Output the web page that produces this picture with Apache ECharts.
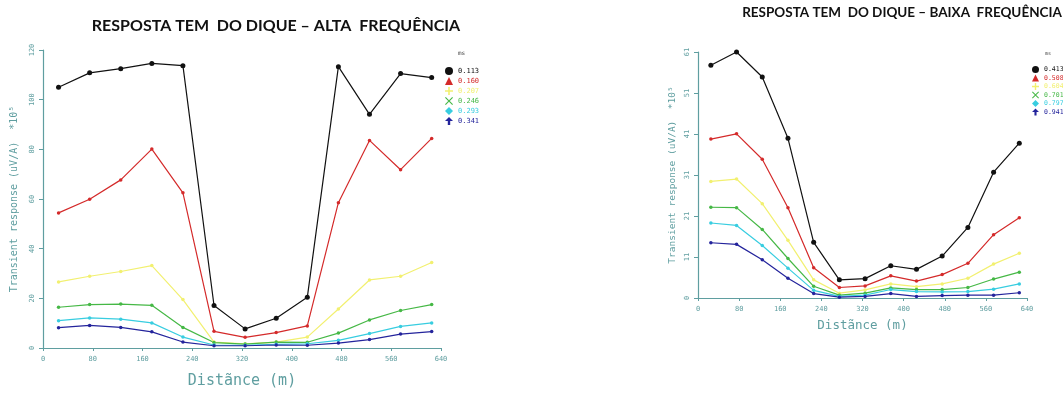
<!DOCTYPE html>
<html>
<head>
<meta charset="utf-8">
<script src="https://cdn.jsdelivr.net/npm/echarts@6/dist/echarts.min.js"></script>
<style>
  html, body { margin: 0; padding: 0; background: #fff; }
  #chart { width: 1063px; height: 396px; }
</style>
</head>
<body>
<div id="chart"></div>
<script>
// Station distances along the profile (m)
const distance = [25, 75, 125, 175, 225, 275, 325, 375, 425, 475, 525, 575, 625];

// High-frequency channels (transient response, uV/A x10^5)
const altaChannels = ['0.113', '0.160', '0.207', '0.246', '0.293', '0.341'];
const alta_0113 = [105.0, 110.8, 112.5, 114.6, 113.7, 17.1, 7.7, 12.0, 20.4, 113.3, 94.1, 110.5, 108.9];
const alta_0160 = [54.4, 59.9, 67.7, 80.1, 62.5, 6.7, 4.3, 6.2, 8.9, 58.5, 83.6, 71.8, 84.4];
const alta_0207 = [26.6, 28.9, 30.8, 33.2, 19.5, 2.4, 1.7, 2.4, 4.4, 15.7, 27.4, 28.9, 34.4];
const alta_0246 = [16.4, 17.5, 17.7, 17.2, 8.3, 2.2, 1.6, 2.4, 2.3, 6.0, 11.3, 15.1, 17.5];
const alta_0293 = [11.0, 12.1, 11.6, 10.1, 4.4, 1.2, 1.1, 1.5, 1.7, 3.1, 5.8, 8.7, 10.1];
const alta_0341 = [8.2, 9.1, 8.3, 6.5, 2.4, 0.9, 0.9, 1.2, 1.1, 2.0, 3.4, 5.6, 6.6];

// Low-frequency channels
const baixaChannels = ['0.413', '0.508', '0.604', '0.701', '0.797', '0.941'];
const baixa_0413 = [57.7, 61.0, 54.8, 39.6, 13.8, 4.5, 4.8, 8.0, 7.1, 10.4, 17.5, 31.2, 38.4];
const baixa_0508 = [39.4, 40.7, 34.4, 22.4, 7.5, 2.6, 3.0, 5.5, 4.2, 5.8, 8.6, 15.7, 19.9];
const baixa_0604 = [28.9, 29.5, 23.4, 14.3, 4.5, 1.2, 2.0, 3.5, 2.8, 3.5, 4.9, 8.4, 11.1];
const baixa_0701 = [22.5, 22.4, 17.0, 9.8, 2.9, 0.7, 1.2, 2.5, 2.1, 2.1, 2.6, 4.7, 6.4];
const baixa_0797 = [18.6, 18.0, 13.0, 7.4, 1.9, 0.4, 0.7, 2.1, 1.6, 1.5, 1.6, 2.2, 3.5];
const baixa_0941 = [13.7, 13.3, 9.5, 4.9, 1.1, 0.2, 0.4, 1.1, 0.4, 0.6, 0.7, 0.7, 1.3];

// Tick labels
const xTicks = ['0', '80', '160', '240', '320', '400', '480', '560', '640'];
const altaYTicks = ['0', '20', '40', '60', '80', '100', '120'];
const baixaYTicks = ['0', '11', '21', '31', '41', '51', '61'];

const altaSeries = [alta_0113, alta_0160, alta_0207, alta_0246, alta_0293, alta_0341];
const baixaSeries = [baixa_0413, baixa_0508, baixa_0604, baixa_0701, baixa_0797, baixa_0941];

const colors = ['#111111', '#d42a2a', '#f2f070', '#46b846', '#38cde0', '#24249c'];
const icons = [
  'circle',
  'triangle',
  'path://M4,0h2v4h4v2h-4v4h-2v-4h-4v-2h4z',
  'path://M1,0L5,4L9,0L10,1L6,5L10,9L9,10L5,6L1,10L0,9L4,5L0,1Z',
  'diamond',
  'path://M5,0L10,5L6.5,5L6.5,10L3.5,10L3.5,5L0,5Z'
];

const axisColor = '#5f9ea0';
const mono = '"DejaVu Sans Mono", monospace';

function buildSeries(list, names, gi) {
  return list.map((vals, i) => ({
    name: names[i],
    type: 'line',
    xAxisIndex: gi,
    yAxisIndex: gi,
    data: vals.map((v, k) => [distance[k], v]),
    symbol: 'circle',
    symbolSize: i === 0 ? 5 : 3.5,
    lineStyle: { width: 1.2, color: colors[i] },
    itemStyle: { color: colors[i] },
    emphasis: { disabled: true },
    animation: false
  }));
}

function legend(names, left, top, size, gap, fs) {
  return {
    orient: 'vertical',
    left: left,
    top: top,
    itemWidth: size,
    itemHeight: size,
    itemGap: gap,
    selectedMode: false,
    textStyle: { fontFamily: mono, fontSize: fs, padding: [0, 0, 0, 0] },
    data: names.map((n, i) => ({ name: n, icon: icons[i], textStyle: { color: colors[i] } }))
  };
}

function xAxis(gi, nameSize, nameGap) {
  return {
    type: 'value', gridIndex: gi, min: 0, max: 640, interval: 80,
    name: 'Distãnce (m)', nameLocation: 'middle', nameGap: nameGap,
    nameTextStyle: { fontFamily: mono, fontSize: nameSize, color: axisColor },
    axisLine: { lineStyle: { color: axisColor, width: 1.2 } },
    axisTick: { show: true, length: 3, lineStyle: { color: axisColor } },
    axisLabel: {
      fontFamily: mono, fontSize: 7, color: axisColor, margin: 8,
      formatter: (v, i) => xTicks[i]
    },
    splitLine: { show: false }
  };
}

function yAxis(gi, max, interval, ticks, nameSize, nameGap) {
  return {
    type: 'value', gridIndex: gi, min: 0, max: max, interval: interval,
    name: 'Transient response (uV/A)  *10⁵', nameLocation: 'middle', nameGap: nameGap,
    nameRotate: 90,
    nameTextStyle: { fontFamily: mono, fontSize: nameSize, color: axisColor },
    axisLine: { show: true, lineStyle: { color: axisColor, width: 1.2 } },
    axisTick: { show: true, length: 4, lineStyle: { color: axisColor } },
    axisLabel: {
      rotate: 90, fontFamily: mono, fontSize: 7, color: axisColor, margin: 7,
      formatter: (v, i) => ticks[i]
    },
    splitLine: { show: false }
  };
}

const chart = echarts.init(document.getElementById('chart'), null, { renderer: 'canvas' });
chart.setOption({
  backgroundColor: '#ffffff',
  animation: false,
  title: [
    {
      text: 'RESPOSTA TEM  DO DIQUE – ALTA  FREQUÊNCIA',
      left: 271, top: 13, textAlign: 'center',
      textStyle: { fontFamily: 'Lato', fontWeight: 'bold', fontSize: 16, color: '#111' }
    },
    {
      text: 'RESPOSTA TEM  DO DIQUE – BAIXA  FREQUÊNCIA',
      left: 897, top: 1, textAlign: 'center',
      textStyle: { fontFamily: 'Lato', fontWeight: 'bold', fontSize: 13.5, color: '#111' }
    }
  ],
  grid: [
    { left: 43, top: 50, width: 398, height: 298 },
    { left: 698, top: 52, width: 329, height: 246 }
  ],
  xAxis: [xAxis(0, 15, 26), xAxis(1, 12.5, 21)],
  yAxis: [
    yAxis(0, 120, 20, altaYTicks, 10, 24),
    yAxis(1, 61, 61 / 6, baixaYTicks, 9.5, 20)
  ],
  legend: [
    legend(altaChannels, 440, 62, 8, 2, 7),
    legend(baixaChannels, 1027, 61, 7, 1.5, 6.5)
  ],
  graphic: [
    { type: 'text', left: 458, top: 50, style: { text: 'ms', fontFamily: mono, fontSize: 6, fill: '#444' } },
    { type: 'text', left: 1045, top: 51, style: { text: 'ms', fontFamily: mono, fontSize: 5, fill: '#444' } }
  ],
  series: buildSeries(altaSeries, altaChannels, 0).concat(buildSeries(baixaSeries, baixaChannels, 1))
});
</script>
</body>
</html>
